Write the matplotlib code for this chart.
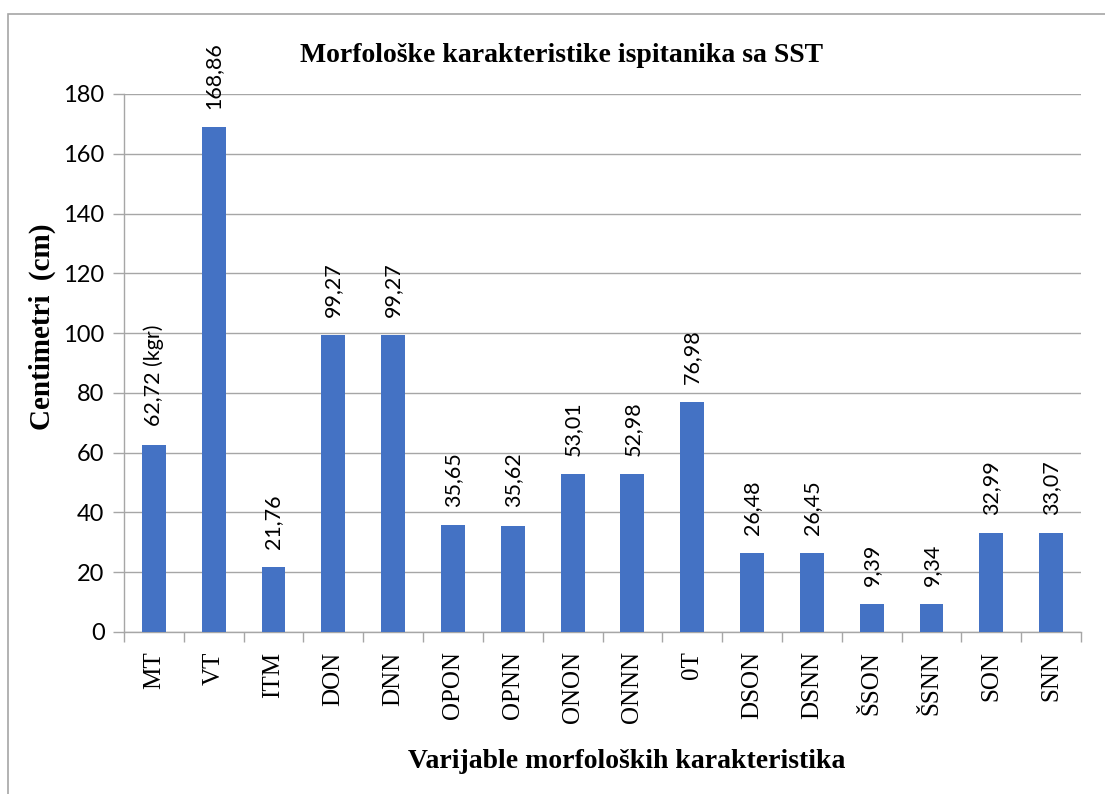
import matplotlib
matplotlib.use("Agg")
import matplotlib.pyplot as plt
from matplotlib.patches import Rectangle

categories = ["MT", "VT", "ITM", "DON", "DNN", "OPON", "OPNN", "ONON", "ONNN",
              "0T", "DSON", "DSNN", "ŠSON", "ŠSNN", "SON", "SNN"]
values = [62.72, 168.86, 21.76, 99.27, 99.27, 35.65, 35.62, 53.01, 52.98,
          76.98, 26.48, 26.45, 9.39, 9.34, 32.99, 33.07]
labels = ["62,72 (kgr)", "168,86", "21,76", "99,27", "99,27", "35,65", "35,62",
          "53,01", "52,98", "76,98", "26,48", "26,45", "9,39", "9,34", "32,99", "33,07"]
yticks = [0, 20, 40, 60, 80, 100, 120, 140, 160, 180]

W, H = 1105, 794
fig = plt.figure(figsize=(W / 100, H / 100), dpi=100)
ax = fig.add_axes([124 / W, 1 - 632 / H, (1081 - 124) / W, (632 - 94) / H])

sans = "Lato"
serif = "Liberation Serif"
grid_c = "#a6a6a6"

x = list(range(len(categories)))
ax.bar(x, values, width=0.4, color="#4472c4", zorder=3)
ax.set_xlim(-0.5, len(categories) - 0.5)
ax.set_ylim(0, 180)
ax.set_yticks(yticks)
ax.set_yticklabels([str(t) for t in yticks], fontfamily=sans, fontsize=17)
ax.yaxis.grid(True, color=grid_c, linewidth=1.0, zorder=0)
ax.set_axisbelow(True)

ax.set_xticks(x)
ax.set_xticklabels(categories, rotation=90, fontfamily=serif, fontsize=18)
ax.set_xticks([i - 0.5 for i in range(len(categories) + 1)], minor=True)
ax.tick_params(axis="x", which="major", length=0, pad=14)
ax.tick_params(axis="x", which="minor", length=7, color=grid_c, width=1)
ax.tick_params(axis="y", length=8, color=grid_c, width=1, pad=6)

for s in ["top", "right"]:
    ax.spines[s].set_visible(False)
for s in ["left", "bottom"]:
    ax.spines[s].set_color(grid_c)
    ax.spines[s].set_linewidth(1.0)

for xi, v, lab in zip(x, values, labels):
    ax.annotate(lab, (xi, v), xytext=(0, 13), textcoords="offset points",
                rotation=90, ha="center", va="bottom",
                fontfamily=sans, fontsize=15.5, zorder=4)

fig.text(562 / W, 1 - 55 / H, "Morfološke karakteristike ispitanika sa SST",
         ha="center", va="center", fontfamily=serif, fontweight="bold", fontsize=20)
fig.text(627 / W, 1 - 762 / H, "Varijable morfoloških karakteristika",
         ha="center", va="center", fontfamily=serif, fontweight="bold", fontsize=20)
fig.text(42 / W, 1 - 327 / H, "Centimetri  (cm)", rotation=90,
         ha="center", va="center", fontfamily=serif, fontweight="bold", fontsize=21)

fig.patches.append(Rectangle((8 / W, -0.1), 1.2, 1 - 14 / H + 0.1,
                             transform=fig.transFigure, fill=False,
                             edgecolor=grid_c, linewidth=1.2))

fig.savefig("out.png", dpi=100)
